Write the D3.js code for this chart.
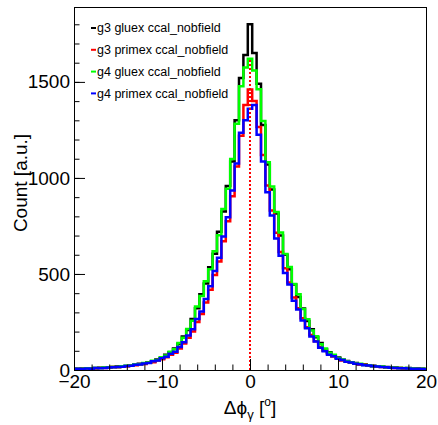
<!DOCTYPE html>
<html lang="en">
<head>
<meta charset="utf-8">
<title>dphi gamma</title>
<style>
body { margin: 0; background: #fff; }
svg text { font-family: "Liberation Sans", Arial, Helvetica, sans-serif; }
.hist { fill: none; stroke-width: 2.5px; }
</style>
<script src="https://cdn.jsdelivr.net/npm/d3@7"></script>
</head>
<body>
<svg width="438" height="425"></svg>
<script>

// bin edges (deg): half bins at the ends so that one bin sits on 0
var binEdges = [-20].concat(d3.range(-19.75, 19.8, 0.5), [20]);

var seriesNames = ["g3 gluex ccal_nobfield", "g3 primex ccal_nobfield",
                   "g4 gluex ccal_nobfield", "g4 primex ccal_nobfield"];

var g3Gluex = [6,5,8,7,9,10,12,12,14,15, 18,19,21,25,27,32,35,41,45,55,
  63,80,93,112,136,175,208,265,322,395, 450,535,605,720,825,958,1085,1300,1520,1640,
  1800,
  1650,1490,1275,1070,940,815,700,600,525,445, 380,320,255,212,170,140,108,93,77,65,
  53,47,39,36,30,28,23,22,18,17, 16,12,13,11,9,10,7,8,6,5];

var g3Primex = [4,7,6,7,9,8,11,10,12,15, 14,18,19,23,25,29,31,38,41,49,
  56,66,80,90,112,138,168,200,250,292, 352,418,495,565,670,775,905,1060,1220,1380,
  1460,
  1400,1265,1120,960,830,715,615,530,455,378, 322,270,222,182,150,120,100,84,70,61,
  50,46,38,34,29,27,22,20,17,16, 13,13,10,10,8,8,6,7,5,5];

var g4Gluex = [5,7,6,9,8,11,10,13,14,16, 16,20,22,23,28,30,37,39,48,52,
  66,76,95,108,141,168,214,256,330,385, 462,524,618,702,838,944,1098,1282,1478,1575,
  1620,
  1560,1462,1296,1082,955,822,716,604,536,448, 394,318,264,206,176,134,112,90,80,62,
  55,45,41,34,32,26,25,20,19,18, 14,13,12,10,10,9,8,7,6,6];

var g4Primex = [5,6,5,8,7,10,9,11,13,14, 16,17,21,22,27,28,34,37,45,50,
  61,69,84,95,120,144,180,212,265,305, 370,436,515,585,695,795,935,1075,1235,1300,
  1360,
  1380,1225,1085,925,805,685,595,505,445,360, 315,258,218,175,148,116,98,80,71,59,
  52,43,39,32,30,25,23,19,18,15, 14,12,11,9,9,8,7,6,5,4];

var xMajor = [-20, -10, 0, 10, 20];
var yMajor = [0, 500, 1000, 1500];

var allSeries = [g3Gluex, g3Primex, g4Gluex, g4Primex];
var colors = ["#000000", "#ff0000", "#00ff00", "#0000ff"];

var svg = d3.select("svg"),
    margin = {top: 7, right: 12, bottom: 55, left: 74},
    width = +svg.attr("width") - margin.left - margin.right,
    height = +svg.attr("height") - margin.top - margin.bottom,
    g = svg.append("g").attr("transform", "translate(" + margin.left + "," + margin.top + ")");

var x = d3.scaleLinear().domain([-20, 20]).range([0, width]);
var y = d3.scaleLinear().domain([0, d3.max(g3Gluex) * 1.05]).range([height, 0]);

svg.append("defs").append("clipPath").attr("id", "frame")
  .append("rect").attr("width", width).attr("height", height);

var line = d3.line()
    .curve(d3.curveStepAfter)
    .x(function(d) { return x(d[0]); })
    .y(function(d) { return y(d[1]); });

function steps(vals) {
  return binEdges.map(function(e, i) { return [e, vals[Math.min(i, vals.length - 1)]]; });
}

var plot = g.append("g").attr("clip-path", "url(#frame)");

plot.selectAll(".hist")
  .data(allSeries)
  .enter().append("path")
    .attr("class", "hist")
    .attr("d", function(d) { return line(steps(d)); })
    .style("stroke", function(d, i) { return colors[i]; });

// dotted marker at 0
plot.append("line")
    .attr("x1", x(0)).attr("x2", x(0))
    .attr("y1", y(0)).attr("y2", y(d3.max(g4Gluex)))
    .attr("stroke", "#ff0000")
    .attr("stroke-width", 2)
    .attr("stroke-dasharray", "2,2");

// axes, ticks inside like ROOT
g.append("g")
    .attr("transform", "translate(0," + height + ")")
    .call(d3.axisBottom(x).tickValues(xMajor).tickSizeInner(-11).tickSizeOuter(0).tickPadding(5));
g.append("g")
    .attr("transform", "translate(0," + height + ")")
    .call(d3.axisBottom(x).tickValues(d3.range(-18, 20, 2)).tickSizeInner(-5.5).tickSizeOuter(0).tickFormat(""));

g.append("g")
    .call(d3.axisLeft(y).tickValues(yMajor).tickFormat(d3.format("d"))
      .tickSizeInner(-11).tickSizeOuter(0).tickPadding(4));
g.append("g")
    .call(d3.axisLeft(y).tickValues(d3.range(100, 1900, 100)).tickSizeInner(-5.5).tickSizeOuter(0).tickFormat(""));

g.selectAll(".tick text")
    .attr("font-size", 19)
    .attr("fill", "#000");
g.selectAll(".domain, .tick line").attr("stroke", "#000");

g.append("rect")
    .attr("x", 0.5).attr("y", 0.5)
    .attr("width", width).attr("height", height)
    .attr("fill", "none").attr("stroke", "#000");

// titles
svg.append("text")
    .attr("transform", "rotate(-90)")
    .attr("x", -183).attr("y", 27)
    .attr("text-anchor", "middle")
    .attr("font-size", 19)
    .text("Count [a.u.]");

var xt = svg.append("text")
    .attr("x", 250).attr("y", 414)
    .attr("text-anchor", "middle")
    .attr("font-size", 19);
xt.append("tspan").text("\u0394\u03d5");
xt.append("tspan").attr("font-size", 13).attr("dy", 5).text("\u03b3");
xt.append("tspan").attr("dy", -5).text(" [");
xt.append("tspan").attr("font-size", 12).attr("dy", -8).text("o");
xt.append("tspan").attr("dy", 8).text("]");

// legend
var legend = svg.selectAll(".legend")
  .data(seriesNames)
  .enter().append("g")
    .attr("class", "legend")
    .attr("transform", function(d, i) { return "translate(91," + (28 + i * 21.8) + ")"; });

legend.append("line")
    .attr("x1", 0).attr("x2", 5)
    .attr("stroke", function(d, i) { return colors[i]; })
    .attr("stroke-width", 2);

legend.append("text")
    .attr("x", 6)
    .attr("dy", "0.35em")
    .attr("font-size", 12.5)
    .text(function(d) { return d; });

</script>
</body>
</html>
